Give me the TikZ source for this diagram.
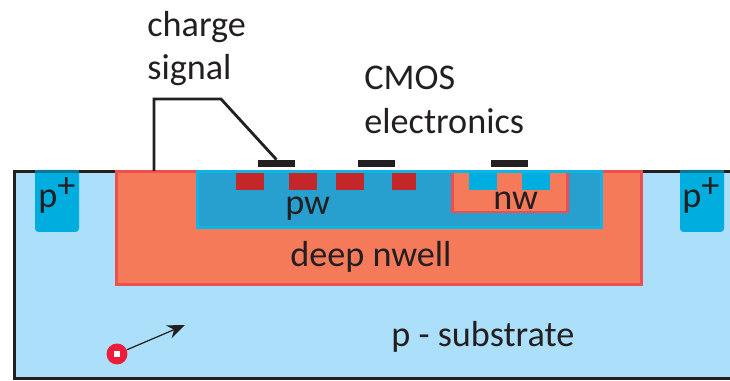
\documentclass[tikz,border=0pt]{standalone}
\usepackage{fontspec}
\setmainfont{Carlito}
\usetikzlibrary{arrows.meta}

\definecolor{subst}{HTML}{ABDFFA}
\definecolor{pplus}{HTML}{00ADDF}
\definecolor{pwfill}{HTML}{27A0D0}
\definecolor{pwedge}{HTML}{0DB4E6}
\definecolor{nwfill}{HTML}{F47A5A}
\definecolor{nwedge}{HTML}{EF4E50}
\definecolor{gate}{HTML}{C4262A}
\definecolor{ink}{HTML}{231F20}
\definecolor{elecred}{HTML}{ED1C3A}

\tikzset{
  metal/.style={fill=ink,inner sep=0,minimum width=0.74cm,minimum height=0.14cm},
  label/.style={anchor=base west,inner sep=0,text=ink,font=\fontsize{20.6}{24}\selectfont},
}

\begin{document}
\begin{tikzpicture}[x=0.02cm,y=-0.02cm]
\useasboundingbox (0,0) rectangle (730,381);

% substrate
\fill[subst] (13,170) rectangle (730,380);
\draw[ink,line width=1.6pt] (735,171.5) -- (14.5,171.5) -- (14.5,378.5) -- (735,378.5);

% p+ contacts
\foreach \x in {35,680} {
  \fill[pplus,rounded corners=2pt] (\x,170) rectangle (\x+44,232);
  \fill[pplus!60!ink] (\x,170) rectangle (\x+44,173);
}

% wells
\draw[nwedge,fill=nwfill,line width=1.6pt] (116.5,171.5) rectangle (641.5,284.5);
\draw[pwedge,fill=pwfill,line width=1.6pt] (197.5,171.5) rectangle (601.5,227.5);
\fill[nwfill] (451,173) rectangle (569,213.5);
\draw[nwedge,line width=1.6pt] (452.5,173) -- (452.5,212) -- (567.5,212) -- (567.5,173);

% implants
\foreach \x in {236,289,336} {
  \fill[gate] (\x,173) rectangle (\x+28,190);
}
\fill[gate] (392,173) rectangle (416,190);
\foreach \x in {469,522} {
  \fill[pplus] (\x,173) rectangle (\x+28,190);
}

% metal
\node[metal] (m1) at (276.5,163.5) {};
\node[metal] (m2) at (376,163.5) {};
\node[metal] (m3) at (509.5,163.5) {};

% readout line
\coordinate (tap) at (154,171);
\draw[ink,line width=1.6pt] (tap) -- (154,99) -- (221,99) -- (m1.north);

% electron
\node[circle,fill=elecred,inner sep=0,minimum size=0.42cm] (elec) at (117,354) {};
\node[fill=white,inner sep=0,minimum size=0.13cm] (hole) at (elec) {};
\coordinate (tip) at (185,325);
\draw[ink,line width=0.7pt,-{Stealth[length=10pt,width=8pt]}] (elec) -- (tip);

\node[label] (charge) at (147,37) {charge};
\node[label] (signal) at (147,80) {signal};
\node[label] (cmos) at (364,90) {CMOS};
\node[label] (electronics) at (364,134) {electronics};
\node[label] (pw) at (285,215) {pw};
\node[label] (nw) at (493,210) {nw};
\node[label] (deep) at (290,267) {deep nwell};
\node[label] (sub) at (391,347) {p - substrate};
\node[label] (pl) at (38,208) {p\raisebox{6pt}{+}};
\node[label] (pr) at (682,208) {p\raisebox{6pt}{+}};
\end{tikzpicture}
\end{document}
